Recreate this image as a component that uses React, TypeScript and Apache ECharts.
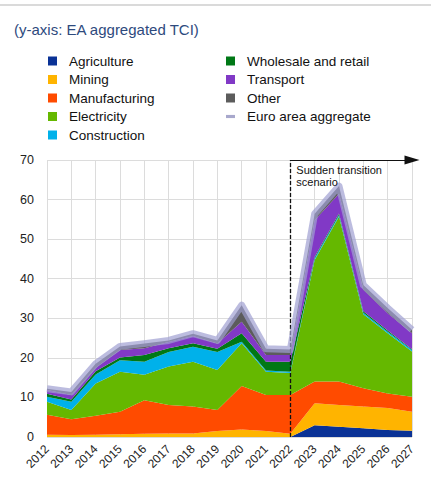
import React, { useEffect, useRef } from "react";
import * as echarts from "echarts";

const years = ["2012","2013","2014","2015","2016","2017","2018","2019","2020","2021","2022","2023","2024","2025","2026","2027"];
const agriculture = [0,0,0,0,0,0,0,0,0,0,0,3.0,2.6,2.2,1.8,1.6];
const mining = [0.6,0.5,0.6,0.7,0.8,0.9,0.9,1.5,1.9,1.5,0.8,5.5,5.5,5.5,5.5,4.8];
const manufacturing = [5.0,4.0,4.8,5.7,8.5,7.2,6.8,5.3,11.0,9.1,9.8,5.5,5.9,4.6,3.7,3.8];
const electricity = [3.3,2.3,8.1,10.1,6.4,9.7,11.3,10.1,10.8,5.9,5.6,30.7,41.7,18.7,15.2,11.4];
const construction = [1.3,2.1,2.3,2.9,3.3,3.7,3.8,4.6,0.4,0.3,0.3,0.5,0.4,0.4,0.4,0.4];
const wholesale = [0.7,0.6,0.8,0.7,1.7,0.9,0.9,0.8,2.1,2.2,2.5,0.3,0.4,0.4,0.3,0.2];
const transport = [1.0,1.1,0.9,1.9,1.7,1.6,1.8,1.3,2.9,1.7,1.7,9.3,5.0,5.4,4.4,4.0];
const other = [0.3,0.8,1.0,0.9,1.2,0.4,0.6,0.8,4.2,1.6,1.4,1.6,1.9,1.2,1.3,0.9];
const euroAreaAggregate = [12.2,11.4,18.5,22.9,23.6,24.4,26.1,24.4,33.3,22.3,22.1,56.4,63.4,38.4,32.6,27.1];
const yTicks = [0,10,20,30,40,50,60,70];
const scenarioStart = "2022";
const scenarioLabel = "Sudden transition\nscenario";

const FONT = "'Liberation Sans', Arial, sans-serif";

export default function App() {
  const ref = useRef<HTMLDivElement>(null);
  useEffect(() => {
    document.body.style.margin = "0";
    if (!ref.current) return;
    const chart = echarts.init(ref.current, null, { renderer: "svg" });
    const areaSeries = [
      { name: "Agriculture", data: agriculture, color: "#0a3296" },
      { name: "Mining", data: mining, color: "#ffb400" },
      { name: "Manufacturing", data: manufacturing, color: "#ff4b00" },
      { name: "Electricity", data: electricity, color: "#65b800" },
      { name: "Construction", data: construction, color: "#00b1ea" },
      { name: "Wholesale and retail", data: wholesale, color: "#007816" },
      { name: "Transport", data: transport, color: "#8139c6" },
      { name: "Other", data: other, color: "#5c5c5c" },
    ].map((s) => ({
      name: s.name,
      type: "line",
      stack: "total",
      data: s.data,
      symbol: "none",
      color: s.color,
      lineStyle: { width: 0 },
      areaStyle: { color: s.color, opacity: 1 },
      itemStyle: { color: s.color },
    }));
    const aggColor = "rgba(160,160,210,0.7)";
    const legendText = { fontFamily: FONT, fontSize: 13.5, color: "#111", lineHeight: 14, padding: [0, 0, 0, 7] };
    const topLine = { type: "line", shape: { x1: 0, y1: 5, x2: 431, y2: 5 }, style: { stroke: "#dadada", lineWidth: 2 } };
    const option: any = {
      animation: false,
      textStyle: { fontFamily: FONT },
      title: {
        text: "(y-axis: EA aggregated TCI)",
        left: 9,
        top: 17,
        textStyle: { fontFamily: FONT, fontSize: 15, fontWeight: "normal", color: "#2e4a7d" },
      },
      legend: [
        {
          data: ["Agriculture", "Mining", "Manufacturing", "Electricity", "Construction"],
          orient: "vertical",
          left: 43,
          top: 49,
          itemWidth: 9,
          itemHeight: 9,
          itemGap: 4.5,
          icon: "rect",
          selectedMode: false,
          textStyle: legendText,
        },
        {
          data: [
            { name: "Wholesale and retail", icon: "rect" },
            { name: "Transport", icon: "rect" },
            { name: "Other", icon: "rect" },
            { name: "Euro area aggregate", icon: "path://M0,0 L10,0 L10,3.5 L0,3.5 Z", itemStyle: { color: "#a8a8cc" } },
          ],
          orient: "vertical",
          left: 221,
          top: 49,
          itemWidth: 9,
          itemHeight: 9,
          itemGap: 4.5,
          selectedMode: false,
          textStyle: legendText,
        },
      ],
      grid: { left: 47, right: 19, top: 160, bottom: 40 },
      xAxis: {
        type: "category",
        data: years,
        boundaryGap: false,
        axisLine: { show: false },
        axisTick: { show: false },
        axisLabel: { rotate: 45, fontSize: 12, color: "#222", margin: 10, fontFamily: FONT, interval: 0 },
        splitLine: { show: true, lineStyle: { color: "#dcdcdc", width: 1 } },
      },
      yAxis: {
        type: "value",
        min: yTicks[0],
        max: yTicks[yTicks.length - 1],
        interval: 10,
        axisLine: { show: false },
        axisTick: { show: false },
        axisLabel: { fontSize: 12.5, color: "#222", margin: 13, fontFamily: FONT },
        splitLine: { show: true, lineStyle: { color: "#dcdcdc", width: 1 } },
      },
      graphic: [topLine],
      series: [
        ...areaSeries,
        {
          name: "Euro area aggregate",
          type: "line",
          data: euroAreaAggregate,
          symbol: "none",
          color: "#a8a8cc",
          lineStyle: { width: 7, color: aggColor, join: "round" },
          z: 5,
          markLine: {
            silent: true,
            symbol: "none",
            animation: false,
            label: { show: false },
            data: [
              [
                { coord: [scenarioStart, 0], lineStyle: { type: [4, 2], color: "#111", width: 1.3 } },
                { coord: [scenarioStart, yTicks[yTicks.length - 1]] },
              ],
              [
                { coord: [scenarioStart, yTicks[yTicks.length - 1]], symbol: "none", lineStyle: { type: "solid", color: "#111", width: 1.2 } },
                { coord: [years[years.length - 1], yTicks[yTicks.length - 1]], symbol: "triangle", symbolSize: [9, 15], symbolRotate: -90 },
              ],
            ],
          },
        },
      ],
    };
    chart.setOption(option);
    const p = chart.convertToPixel({ gridIndex: 0 }, [scenarioStart, yTicks[yTicks.length - 1]]) as number[];
    chart.setOption({
      graphic: [
        topLine,
        {
          type: "text",
          x: p[0] + 6,
          y: p[1] + 4,
          z: 100,
          style: { text: scenarioLabel, fontFamily: FONT, fontSize: 11, lineHeight: 12, fill: "#111" },
        },
      ],
    });
    return () => chart.dispose();
  }, []);
  return <div ref={ref} style={{ width: 431, height: 477 }} />;
}
